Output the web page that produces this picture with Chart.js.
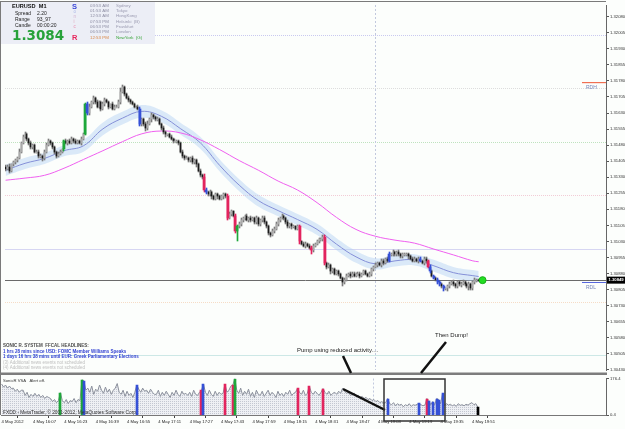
<!DOCTYPE html>
<html>
<head>
<meta charset="utf-8">
<title>EURUSD M1 - Sonic R</title>
<script src="https://cdn.jsdelivr.net/npm/chart.js@4.4.1/dist/chart.umd.min.js"></script>
<style>
    html, body { margin: 0; padding: 0; background: #ffffff; }
    #wrap { position: relative; width: 625px; height: 429px; background: #fcfefc; overflow: hidden; }
    .pane { position: absolute; left: 0; width: 625px; }
</style>
</head>
<body>
<div id="wrap">
    <div class="pane" style="top:0;height:375px"><canvas id="chart-price"></canvas></div>
    <div class="pane" style="top:375px;height:54px"><canvas id="chart-vol"></canvas></div>
</div>
<script>
// ---- data (one entry per M1 bar, 15:51 .. 19:54) ----
const timeLabels = ['4 May 2012', '4 May 16:07', '4 May 16:23', '4 May 16:39', '4 May 16:55', '4 May 17:11',
    '4 May 17:27', '4 May 17:43', '4 May 17:59', '4 May 18:15', '4 May 18:31', '4 May 18:47',
    '4 May 19:03', '4 May 19:19', '4 May 19:35', '4 May 19:51'];

const firstOpen = 1.3138;
const closes = [
    1.3137, 1.3138, 1.3136, 1.3139, 1.3140, 1.3141, 1.3142, 1.3145, 1.3149, 1.3152,
    1.3153, 1.3151, 1.3149, 1.3147, 1.3148, 1.3145, 1.3145, 1.3143, 1.3143, 1.3142,
    1.3145, 1.3148, 1.3150, 1.3149, 1.3147, 1.3145, 1.3143, 1.3144, 1.3145, 1.3146,
    1.3150, 1.3149, 1.3150, 1.3149, 1.3151, 1.3150, 1.3149, 1.3150, 1.3149, 1.3151,
    1.3153, 1.3167, 1.3163, 1.3166, 1.3168, 1.3170, 1.3168, 1.3166, 1.3168, 1.3165,
    1.3167, 1.3169, 1.3168, 1.3166, 1.3167, 1.3165, 1.3166, 1.3166, 1.3168, 1.3173,
    1.3175, 1.3172, 1.3170, 1.3169, 1.3168, 1.3167, 1.3166, 1.3166, 1.3165, 1.3158,
    1.3160, 1.3158, 1.3156, 1.3158, 1.3160, 1.3162, 1.3161, 1.3160, 1.3160, 1.3158,
    1.3156, 1.3154, 1.3153, 1.3153, 1.3152, 1.3151, 1.3150, 1.3150, 1.3150, 1.3149,
    1.3145, 1.3143, 1.3142, 1.3142, 1.3141, 1.3142, 1.3140, 1.3141, 1.3139, 1.3136,
    1.3134, 1.3133, 1.3127, 1.3126, 1.3125, 1.3126, 1.3124, 1.3123, 1.3125, 1.3124,
    1.3123, 1.3124, 1.3125, 1.3124, 1.3114, 1.3116, 1.3117, 1.3115, 1.3108, 1.3110,
    1.3111, 1.3113, 1.3114, 1.3115, 1.3113, 1.3114, 1.3113, 1.3114, 1.3112, 1.3114,
    1.3111, 1.3113, 1.3114, 1.3112, 1.3110, 1.3107, 1.3106, 1.3108, 1.3109, 1.3111,
    1.3113, 1.3114, 1.3115, 1.3114, 1.3112, 1.3110, 1.3111, 1.3110, 1.3110, 1.3109,
    1.3110, 1.3103, 1.3102, 1.3101, 1.3102, 1.3101, 1.3100, 1.3099, 1.3101, 1.3102,
    1.3103, 1.3104, 1.3104, 1.3105, 1.3093, 1.3091, 1.3092, 1.3089, 1.3090, 1.3088,
    1.3089, 1.3088, 1.3086, 1.3084, 1.3085, 1.3087, 1.3088, 1.3087, 1.3088, 1.3087,
    1.3088, 1.3088, 1.3087, 1.3088, 1.3089, 1.3088, 1.3087, 1.3088, 1.3090, 1.3091,
    1.3092, 1.3093, 1.3092, 1.3094, 1.3093, 1.3095, 1.3094, 1.3097, 1.3097, 1.3098,
    1.3097, 1.3098, 1.3097, 1.3096, 1.3097, 1.3097, 1.3097, 1.3096, 1.3095, 1.3094,
    1.3095, 1.3094, 1.3095, 1.3094, 1.3093, 1.3095, 1.3094, 1.3091, 1.3089, 1.3087,
    1.3086, 1.3085, 1.3084, 1.3083, 1.3082, 1.3081, 1.3081, 1.3082, 1.3083, 1.3084,
    1.3083, 1.3082, 1.3084, 1.3083, 1.3083, 1.3084, 1.3083, 1.3082, 1.3083, 1.3081,
    1.3084, 1.3085, 1.3085, 1.30849
];
// wick lengths above / below the body, in units of 0.00002
const wickUp = [
    4, 3, 5, 2, 4, 3, 2, 5, 3, 4,   6, 3, 2, 4, 3, 2, 4, 3, 5, 2,   3, 4, 5, 2, 3, 4, 2, 3, 4, 2,
    3, 4, 2, 5, 3, 2, 4, 3, 2, 4,   3, 4, 6, 5, 4, 6, 3, 5, 4, 3,   5, 4, 3, 4, 2, 5, 3, 4, 6, 8,
    5, 4, 3, 5, 2, 4, 3, 2, 4, 3,   4, 3, 5, 6, 3, 4, 2, 3, 5, 3,   2, 4, 3, 2, 4, 3, 2, 4, 3, 2,
    3, 4, 2, 5, 3, 2, 4, 3, 2, 3,   4, 3, 8, 4, 3, 5, 2, 4, 3, 2,   3, 4, 2, 3, 5, 3, 4, 2, 3, 4,
    5, 4, 3, 2, 4, 3, 5, 2, 3, 4,   3, 2, 4, 5, 3, 4, 2, 3, 4, 5,   4, 3, 5, 2, 3, 4, 2, 3, 4, 2,
    3, 4, 2, 3, 4, 2, 3, 5, 3, 2,   4, 3, 2, 4, 5, 3, 4, 2, 3, 4,   3, 4, 2, 3, 5, 4, 2, 3, 4, 3,
    2, 4, 3, 2, 4, 3, 2, 3, 4, 3,   4, 3, 2, 4, 3, 2, 4, 5, 3, 6,   3, 2, 4, 3, 2, 4, 3, 2, 3, 4,
    3, 2, 4, 3, 2, 4, 3, 2, 4, 3,   2, 3, 4, 2, 3, 4, 2, 3, 4, 3,   4, 3, 2, 3, 4, 5, 3, 2, 4, 3,
    3, 4, 2, 3
];
const wickDn = [
    5, 4, 6, 3, 4, 3, 5, 2, 4, 3,   3, 5, 4, 3, 5, 4, 3, 5, 4, 6,   4, 3, 2, 4, 3, 5, 4, 3, 2, 4,
    3, 2, 4, 3, 2, 4, 3, 2, 3, 4,   4, 2, 5, 4, 3, 4, 5, 3, 4, 6,   3, 4, 2, 5, 3, 4, 3, 2, 4, 3,
    4, 5, 3, 4, 3, 2, 4, 3, 4, 6,   5, 6, 8, 4, 3, 5, 4, 3, 4, 3,   4, 3, 5, 4, 3, 2, 4, 3, 5, 4,
    3, 5, 4, 3, 5, 4, 3, 4, 5, 3,   4, 3, 4, 5, 3, 4, 5, 3, 4, 5,   4, 3, 5, 4, 4, 3, 5, 4, 5, 25,
    4, 3, 5, 4, 3, 4, 5, 3, 4, 5,   4, 3, 5, 4, 3, 5, 4, 3, 5, 4,   3, 4, 3, 5, 4, 3, 4, 5, 3, 4,
    4, 5, 4, 3, 5, 4, 3, 10, 4, 3,  4, 3, 5, 4, 6, 4, 3, 5, 4, 3,   4, 5, 3, 10, 4, 3, 4, 5, 3, 4,
    3, 4, 5, 3, 4, 3, 4, 3, 5, 4,   3, 4, 3, 5, 4, 3, 4, 3, 4, 3,   4, 3, 5, 4, 3, 4, 3, 5, 4, 3,
    4, 3, 5, 4, 3, 4, 5, 3, 4, 3,   4, 3, 5, 4, 3, 5, 4, 6, 4, 3,   4, 3, 5, 4, 6, 3, 4, 5, 8, 4,
    3, 5, 4, 3
];
// tick volume, SonicR VSA pane
const volumes = [
    150, 135, 145, 130, 140, 128, 130, 115, 125, 110,  120, 120, 95, 110, 85, 100, 90, 105, 90, 100,
    85, 95, 80, 90, 85, 80, 65, 75, 60, 70,            108, 70, 60, 75, 55, 70, 65, 80, 60, 75,
    70, 170, 165, 120, 130, 110, 140, 100, 125, 115,   145, 120, 105, 135, 110, 125, 100, 120, 130, 152,
    110, 100, 120, 90, 115, 95, 105, 85, 110, 145,     125, 110, 130, 115, 120, 105, 125, 110, 100, 100,
    120, 90, 110, 95, 115, 100, 85, 110, 95, 120,      100, 90, 115, 100, 105, 95, 110, 90, 120, 100,
    95, 110, 120, 150, 110, 95, 120, 100, 90, 115,     95, 110, 100, 105, 150, 110, 120, 140, 145, 176,
    120, 105, 130, 95, 115, 100, 125, 90, 110, 85,     120, 100, 95, 115, 90, 105, 120, 95, 110, 100,
    85, 115, 95, 105, 90, 110, 100, 120, 95, 105,      110, 130, 110, 100, 120, 95, 105, 140, 110, 100,
    115, 105, 95, 110, 128, 110, 100, 115, 95, 105,    110, 100, 115, 105, 130, 115, 105, 110, 95, 100,
    105, 90, 95, 85, 90, 80, 85, 75, 80, 70,           75, 65, 70, 60, 65, 58, 60, 80, 55, 50,
    60, 45, 55, 48, 52, 40, 50, 45, 55, 42,            50, 47, 52, 57, 50, 45, 48, 80, 70, 50,
    65, 50, 80, 75, 55, 105, 45, 55, 48, 52,           45, 50, 42, 55, 47, 50, 45, 52, 48, 55,
    60, 50, 55, 38
];
const greenBars = [30, 41, 119];
const blueBars = [42, 69, 103, 197, 213, 218, 220, 222, 223, 225];
const redBars = [102, 114, 118, 151, 157, 164, 217];
const currentBar = 243;

// Sonic R dragon (EMA34 band) and EMA89, sampled every 10 bars
const maBars = [0, 10, 20, 30, 40, 50, 60, 70, 80, 90, 100, 110, 120, 130, 140, 150, 160, 170, 180, 190, 200, 210, 220, 230, 240, 243];
const dragonMid = [1.31362, 1.31395, 1.31418, 1.31454, 1.31477, 1.31556, 1.31606, 1.31638, 1.31615, 1.31556, 1.31491, 1.31385, 1.31293,
    1.31220, 1.31174, 1.31132, 1.31086, 1.31017, 1.30958, 1.30925, 1.30939, 1.30944, 1.30916, 1.30884, 1.30870, 1.30866];
const dragonHigh = [1.31388, 1.31421, 1.31444, 1.31480, 1.31505, 1.31586, 1.31636, 1.31668, 1.31643, 1.31584, 1.31519, 1.31413, 1.31321,
    1.31248, 1.31200, 1.31158, 1.31112, 1.31045, 1.30986, 1.30951, 1.30965, 1.30970, 1.30944, 1.30911, 1.30896, 1.30892];
const dragonLow = [1.31336, 1.31369, 1.31392, 1.31428, 1.31449, 1.31526, 1.31576, 1.31608, 1.31587, 1.31528, 1.31463, 1.31357, 1.31265,
    1.31192, 1.31148, 1.31106, 1.31060, 1.30989, 1.30930, 1.30899, 1.30913, 1.30918, 1.30888, 1.30857, 1.30844, 1.30840];
const ema89 = [1.31316, 1.31326, 1.31339, 1.31372, 1.31413, 1.31454, 1.31496, 1.31533, 1.31546, 1.31537, 1.31505, 1.31459, 1.31408,
    1.31362, 1.31312, 1.31270, 1.31211, 1.31142, 1.31086, 1.31054, 1.31036, 1.31022, 1.30994, 1.30967, 1.30939, 1.30935];

const priceTicks = [1.32080, 1.32005, 1.31930, 1.31855, 1.31780, 1.31705, 1.31630, 1.31555, 1.31480, 1.31405, 1.31330, 1.31255,
    1.31180, 1.31105, 1.31030, 1.30955, 1.30880, 1.30805, 1.30730, 1.30655, 1.30580, 1.30505, 1.30430];
const volTicks = [0.4, 176.4];
const bidPrice = 1.30849;
const rdhPrice = 1.31772;
const rdlPrice = 1.30838;
const signalBar = 245;
const sessionBar = 189.5;

// horizontal level lines: price, colour, dash
const levels = [
    [1.31993, '#c9c9f0', [1, 1]],
    [1.31749, '#dddddd', [1, 1]],
    [1.31496, '#bfe3bf', [1, 1]],
    [1.31247, '#f2ccd6', [1, 1]],
    [1.30994, '#d6d6f2', []],
    [1.30746, '#f6dcc6', [1, 1]],
    [1.30498, '#cde8e6', []]
];

const sessionTimes = ['03:53 AM', '01:53 AM', '12:53 AM', '07:53 PM', '06:53 PM', '06:53 PM', '12:53 PM'];
const sessionNames = ['Sydney', 'Tokyo', 'HongKong', 'Helsinki  (B)', 'Frankfurt', 'London', 'NewYork  (G)'];
const headlines = [
    'SONIC R. SYSTEM  FFCAL HEADLINES:',
    '1 hrs 28 mins since USD: FOMC Member Williams Speaks',
    '1 days 16 hrs 38 mins until EUR: Greek Parliamentary Elections',
    '(3) Additional news events not scheduled',
    '(4) Additional news events not scheduled'
];

// ---- build ----
const FONT = 'Liberation Sans';
const WICK_UNIT = 0.00002;
const xMin = -0.3, xMax = 308.4;
const priceMin = 1.30429, priceMax = 1.32135;

const opens = closes.map((c, i) => i === 0 ? firstOpen : closes[i - 1]);
const highs = closes.map((c, i) => Math.max(opens[i], c) + wickUp[i] * WICK_UNIT);
const lows = closes.map((c, i) => Math.min(opens[i], c) - wickDn[i] * WICK_UNIT);

const spikeColor = (i) => {
    if (i === currentBar) return '#000000';
    if (greenBars.includes(i)) return '#1ea83a';
    if (blueBars.includes(i)) return '#3550d6';
    if (redBars.includes(i)) return '#e2245e';
    return null;
};
const allIdx = closes.map((_, i) => i);
const plainIdx = allIdx.filter(i => !spikeColor(i) || i === currentBar);
const spikeIdx = allIdx.filter(i => spikeColor(i) && i !== currentBar);

const txt = (c, s, x, y, size, color, weight = 'normal', family = FONT) => {
    c.font = `${weight} ${size}px "${family}"`;
    c.fillStyle = color;
    c.textAlign = 'left';
    c.textBaseline = 'middle';
    c.fillText(s, x, y);
};
const seg = (c, x1, y1, x2, y2, color, w, dash = []) => {
    c.save();
    c.strokeStyle = color;
    c.lineWidth = w;
    c.setLineDash(dash);
    c.beginPath();
    c.moveTo(x1, y1);
    c.lineTo(x2, y2);
    c.stroke();
    c.restore();
};

// snap bar elements onto whole pixels so the thin candles stay crisp, like MT4 draws them
const snapBars = {
    id: 'snapBars',
    beforeDatasetsDraw(chart) {
        chart.data.datasets.forEach((ds, di) => {
            const meta = chart.getDatasetMeta(di);
            if (meta.type !== 'bar') return;
            const even = (ds.barThickness || 1) % 2 === 0;
            meta.data.forEach(el => {
                el.x = even ? Math.round(el.x) : Math.floor(el.x) + 0.5;
                el.y = Math.round(el.y);
                el.base = Math.round(el.base);
                if (el.y === el.base) el.base = el.y + 1;
            });
        });
    }
};

const pricePlugin = {
    id: 'mt4Price',
    beforeDraw(chart) {
        const c = chart.ctx;
        c.save();
        c.fillStyle = '#fcfefc';
        c.fillRect(0, 0, chart.width, chart.height);
        c.restore();
    },
    beforeDatasetsDraw(chart) {
        const c = chart.ctx, a = chart.chartArea, y = chart.scales.y, x = chart.scales.x;
        levels.forEach(([p, col, dash]) => {
            const py = Math.round(y.getPixelForValue(p)) + 0.5;
            seg(c, a.left, py, a.right, py, col, 1, dash);
        });
        const sx = Math.round(x.getPixelForValue(sessionBar)) + 0.5;
        seg(c, sx, a.top, sx, a.bottom, '#c2c9de', 1, [2, 2]);
        const by = Math.round(y.getPixelForValue(bidPrice)) + 0.5;
        seg(c, a.left, by, a.right, by, '#6a6a6a', 1);
    },
    afterDraw(chart) {
        const c = chart.ctx, a = chart.chartArea, y = chart.scales.y;
        // frame
        seg(c, 0, 1.5, a.right, 1.5, '#7a7a7a', 1);
        seg(c, 0.5, 1, 0.5, 375, '#7a7a7a', 1);
        c.fillStyle = '#7d7d7d';
        c.fillRect(0, 372.5, a.right + 1, 2.5);

        // RDH / RDL
        const rh = y.getPixelForValue(rdhPrice), rl = y.getPixelForValue(rdlPrice);
        seg(c, 582, rh, a.right, rh, '#ee5533', 1);
        txt(c, 'RDH', 586, rh + 5, 5, '#7584b8');
        seg(c, 582, rl, a.right, rl, '#5566dd', 1);
        txt(c, 'RDL', 586, rl + 5, 5, '#7584b8');

        // current price tag on the axis
        const by = y.getPixelForValue(bidPrice);
        c.fillStyle = '#000';
        c.fillRect(607, by - 3.5, 18, 7);
        txt(c, bidPrice.toFixed(5), 608.5, by, 4.2, '#ffffff', 'bold');

        // info box
        c.fillStyle = '#eceef6';
        c.fillRect(1, 2, 154, 42);
        txt(c, 'EURUSD  M1', 12, 6.5, 5.6, '#111', 'bold');
        txt(c, 'Spread', 15, 14, 5, '#222');
        txt(c, '2.20', 37, 14, 5, '#222');
        txt(c, 'Range', 15, 20, 5, '#222');
        txt(c, '93_97', 37, 20, 5, '#222');
        txt(c, 'Candle', 15, 26, 5, '#222');
        txt(c, '00:00:20', 37, 26, 5, '#222');
        txt(c, '1.3084', 12, 36, 13.5, '#27a23a', 'bold', 'DejaVu Sans');
        txt(c, 'S', 72, 6.5, 7.5, '#3a46d8', 'bold');
        [['o', '#a9b6e6'], ['n', '#d3b3d0'], ['i', '#e3a7bd'], ['c', '#e98fb0']].forEach(([ch, col], k) => {
            txt(c, ch, 73.5, 11.5 + k * 5, 4.5, col);
        });
        txt(c, 'R', 72, 37.5, 7.5, '#e8245c', 'bold');
        sessionTimes.forEach((t, k) => {
            const last = k === sessionTimes.length - 1;
            txt(c, t, 90, 5.5 + k * 5.3, 4.4, last ? '#d98645' : '#8e8ea4');
            txt(c, sessionNames[k], 116, 5.5 + k * 5.3, 4.4, last ? '#3aa53a' : '#9a9ab0');
        });

        // news headlines
        const hCol = ['#4a4a4a', '#2f3fd2', '#2f3fd2', '#bdbdbd', '#bdbdbd'];
        headlines.forEach((h, k) => {
            txt(c, h, 3, 346 + k * 5.5, 4.5, hCol[k], k < 3 ? 'bold' : 'normal');
        });

        // hand-drawn annotations
        txt(c, 'Pump using reduced activity....', 297, 350, 6, '#222');
        txt(c, 'Then Dump!', 435, 335, 6, '#222');
        seg(c, 343, 356, 351, 373, '#111', 2.5);
        seg(c, 446, 342, 421, 373, '#111', 2.5);
    }
};

const volPlugin = {
    id: 'mt4Vol',
    beforeDraw(chart) {
        const c = chart.ctx;
        c.save();
        c.fillStyle = '#fcfefc';
        c.fillRect(0, 0, chart.width, chart.height);
        c.restore();
    },
    beforeDatasetsDraw(chart) {
        const c = chart.ctx, a = chart.chartArea, x = chart.scales.x;
        const sx = Math.round(x.getPixelForValue(sessionBar)) + 0.5;
        seg(c, sx, a.top, sx, a.bottom, '#c2c9de', 1, [2, 2]);
    },
    afterDraw(chart) {
        const c = chart.ctx, a = chart.chartArea;
        seg(c, 0.5, 0, 0.5, a.bottom, '#7a7a7a', 1);
        txt(c, 'SonicR VSA   Alert off.', 3, 6, 4.2, '#333');
        txt(c, 'FXDD - MetaTrader, \u00a9 2001-2012, MetaQuotes Software Corp.', 3, 38, 4.8, '#333');
        // annotation line and box
        seg(c, 343, 14, 385, 35, '#111', 2.5);
        c.save();
        c.strokeStyle = '#333';
        c.lineWidth = 1.5;
        c.strokeRect(384, 4, 61, 42);
        c.restore();
    }
};

// dotted fill pattern under the volume line
const patCanvas = document.createElement('canvas');
patCanvas.width = 2; patCanvas.height = 2;
const pg = patCanvas.getContext('2d');
pg.fillStyle = '#eef0f4'; pg.fillRect(0, 0, 2, 2);
pg.fillStyle = '#c3c7d1'; pg.fillRect(0, 0, 1, 1);
const dotFill = pg.createPattern(patCanvas, 'repeat');

const maPts = (arr) => maBars.map((b, k) => ({ x: b, y: arr[k] }));
const baseLine = { type: 'line', pointRadius: 0, tension: 0.4 };

new Chart(document.getElementById('chart-price'), {
    type: 'line',
    data: {
        datasets: [
            { ...baseLine, data: maPts(dragonHigh), borderWidth: 0, borderColor: 'rgba(0,0,0,0)', fill: false, order: 10 },
            { ...baseLine, data: maPts(dragonLow), borderWidth: 0, borderColor: 'rgba(0,0,0,0)', fill: '-1', backgroundColor: 'rgba(178,208,243,0.45)', order: 10 },
            { ...baseLine, data: maPts(dragonMid), borderWidth: 1, borderColor: '#8590d8', order: 9 },
            { ...baseLine, data: maPts(ema89), borderWidth: 1, borderColor: '#f060f0', order: 8 },
            {
                type: 'bar', grouped: false, barThickness: 1, order: 4,
                data: plainIdx.map(i => ({ x: i, y: [lows[i], highs[i]] })),
                backgroundColor: '#7a7a7a'
            },
            {
                type: 'bar', grouped: false, barThickness: 1, order: 3,
                data: plainIdx.map(i => ({ x: i, y: [opens[i], closes[i]] })),
                backgroundColor: plainIdx.map(i => closes[i] >= opens[i] ? '#aaaaaa' : '#1a1a1a')
            },
            {
                type: 'bar', grouped: false, barThickness: 1, order: 2,
                data: spikeIdx.map(i => ({ x: i, y: [lows[i], highs[i]] })),
                backgroundColor: spikeIdx.map(spikeColor)
            },
            {
                type: 'bar', grouped: false, barThickness: 2, order: 1,
                data: spikeIdx.map(i => ({ x: i, y: [opens[i], closes[i]] })),
                backgroundColor: spikeIdx.map(spikeColor)
            },
            {
                type: 'scatter', order: 0,
                data: [{ x: signalBar, y: bidPrice }],
                pointRadius: 3.5, backgroundColor: '#22dd22', borderColor: '#16b016', borderWidth: 1
            }
        ]
    },
    options: {
        responsive: true,
        maintainAspectRatio: false,
        animation: false,
        devicePixelRatio: 1,
        layout: { padding: { left: 1, top: 2, right: 0, bottom: 2 } },
        plugins: { legend: { display: false }, tooltip: { enabled: false } },
        scales: {
            x: { type: 'linear', min: xMin, max: xMax, offset: false, display: false },
            y: {
                position: 'right', min: priceMin, max: priceMax,
                afterFit: (s) => { s.width = 19; },
                afterBuildTicks: (s) => { s.ticks = priceTicks.map(v => ({ value: v })); },
                ticks: { autoSkip: false, padding: 1, color: '#333', font: { family: FONT, size: 4.2 }, callback: (v) => Number(v).toFixed(5) },
                grid: { drawOnChartArea: false, tickLength: 3, color: '#555' },
                border: { color: '#666' }
            }
        }
    },
    plugins: [snapBars, pricePlugin]
});

new Chart(document.getElementById('chart-vol'), {
    type: 'line',
    data: {
        datasets: [
            {
                type: 'bar', grouped: false, barThickness: 2, order: 1,
                data: allIdx.filter(i => spikeColor(i)).map(i => ({ x: i, y: volumes[i] })),
                backgroundColor: allIdx.filter(i => spikeColor(i)).map(spikeColor)
            },
            {
                ...baseLine, tension: 0, order: 2,
                data: allIdx.map(i => ({ x: i, y: volumes[i] })),
                borderWidth: 1, borderColor: '#8b909c',
                fill: 'start', backgroundColor: dotFill
            }
        ]
    },
    options: {
        responsive: true,
        maintainAspectRatio: false,
        animation: false,
        devicePixelRatio: 1,
        layout: { padding: { left: 1, top: 3, right: 0, bottom: 0 } },
        plugins: { legend: { display: false }, tooltip: { enabled: false } },
        scales: {
            x: {
                type: 'linear', min: xMin, max: xMax, offset: false,
                afterFit: (s) => { s.height = 14; },
                afterBuildTicks: (s) => { s.ticks = timeLabels.map((_, k) => ({ value: k * 16 })); },
                ticks: { autoSkip: false, maxRotation: 0, align: 'start', padding: 1, color: '#222', font: { family: FONT, size: 4.2 }, callback: (v, k) => timeLabels[k] },
                grid: { drawOnChartArea: false, tickLength: 3, color: '#444' },
                border: { color: '#777' }
            },
            y: {
                position: 'right', min: 0.4, max: 176.4,
                afterFit: (s) => { s.width = 19; },
                afterBuildTicks: (s) => { s.ticks = volTicks.map(v => ({ value: v })); },
                ticks: { autoSkip: false, padding: 1, color: '#333', font: { family: FONT, size: 4.2 }, callback: (v) => String(v) },
                grid: { drawOnChartArea: false, tickLength: 3, color: '#555' },
                border: { color: '#666' }
            }
        }
    },
    plugins: [snapBars, volPlugin]
});
</script>
</body>
</html>
